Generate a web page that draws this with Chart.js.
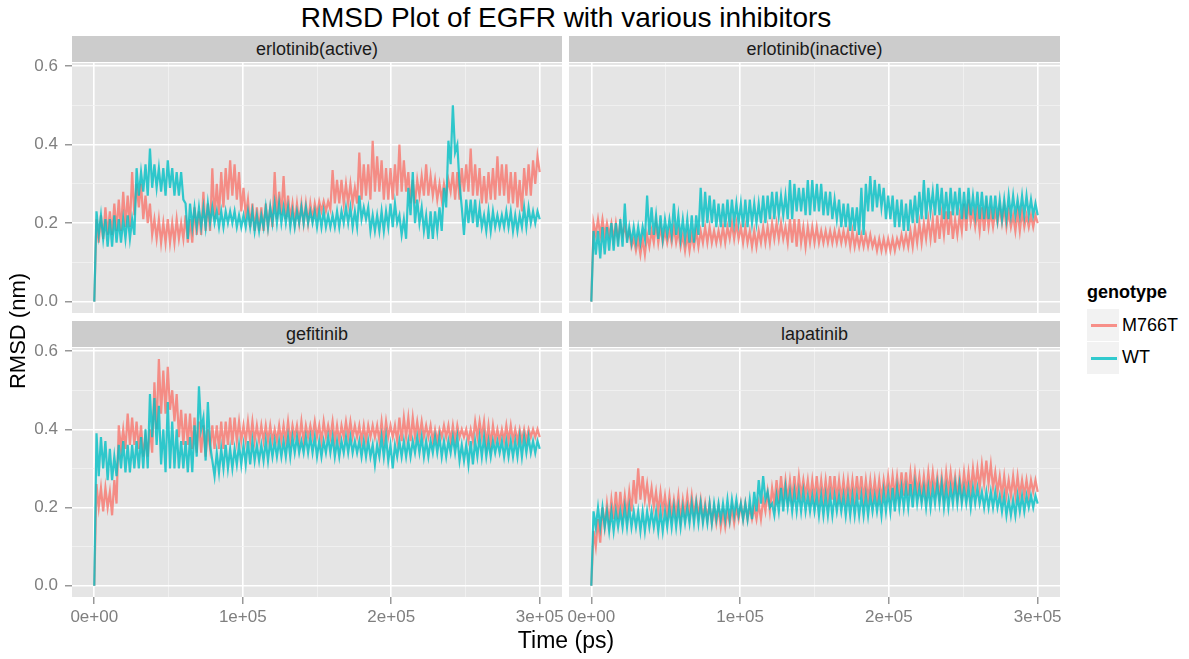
<!DOCTYPE html>
<html>
<head>
<meta charset="utf-8">
<title>RMSD Plot of EGFR with various inhibitors</title>
<script src="https://cdn.jsdelivr.net/npm/chart.js@4.4.1/dist/chart.umd.min.js"></script>
<style>
  body { margin: 0; background: #ffffff; font-family: "Liberation Sans", Arial, sans-serif; }
  #page { position: relative; width: 1189px; height: 659px; overflow: hidden; }
  canvas { position: absolute; }
  .strip { position: absolute; height: 26px; line-height: 26px; background: #CCCCCC; color: #1A1A1A; font-size: 18px; text-align: center; }
  .txt { position: absolute; color: #000000; white-space: nowrap; }
  .key { position: absolute; left: 1087px; width: 32px; height: 32px; background: #F2F2F2; }
  .key span { position: absolute; left: 4px; top: 15px; width: 26px; height: 3px; }
</style>
</head>
<body>
<div id="page">
  <div class="txt" style="left:0; width:1132px; top:2px; text-align:center; font-size:28px;">RMSD Plot of EGFR with various inhibitors</div>

  <div class="strip" style="left:72px; top:36px; width:490px;">erlotinib(active)</div>
  <div class="strip" style="left:569px; top:36px; width:491px;">erlotinib(inactive)</div>
  <div class="strip" style="left:72px; top:321px; width:490px;">gefitinib</div>
  <div class="strip" style="left:569px; top:321px; width:491px;">lapatinib</div>

  <canvas id="c-ea" width="600" height="270" style="left:0; top:43px;"></canvas>
  <canvas id="c-ei" width="510" height="270" style="left:560px; top:43px;"></canvas>
  <canvas id="c-gf" width="600" height="331" style="left:0; top:328px;"></canvas>
  <canvas id="c-lp" width="510" height="331" style="left:560px; top:328px;"></canvas>

  <div class="txt" style="left:466px; width:200px; top:627px; text-align:center; font-size:23px;">Time (ps)</div>
  <div class="txt" style="left:-82px; width:200px; top:318px; text-align:center; font-size:22px; transform:rotate(-90deg);">RMSD (nm)</div>

  <div class="txt" style="left:1087px; top:282px; font-size:18px; font-weight:bold;">genotype</div>
  <div class="key" style="top:309px;"><span style="background:rgba(248,118,109,0.8);"></span></div>
  <div class="key" style="top:342px;"><span style="background:rgba(0,191,196,0.8);"></span></div>
  <div class="txt" style="left:1122px; top:315px; font-size:18px;">M766T</div>
  <div class="txt" style="left:1122px; top:347px; font-size:18px;">WT</div>
</div>

<script>
'use strict';

/* global Chart */

// sampling times (ps)
const times = [0,
    1500, 3000, 4500, 6000, 7500, 9000, 10500, 12000, 13500, 15000, 16500, 18000, 19500, 21000, 22500, 24000, 25500, 27000, 28500, 30000,
    31500, 33000, 34500, 36000, 37500, 39000, 40500, 42000, 43500, 45000, 46500, 48000, 49500, 51000, 52500, 54000, 55500, 57000, 58500, 60000,
    61500, 63000, 64500, 66000, 67500, 69000, 70500, 72000, 73500, 75000, 76500, 78000, 79500, 81000, 82500, 84000, 85500, 87000, 88500, 90000,
    91500, 93000, 94500, 96000, 97500, 99000, 100500, 102000, 103500, 105000, 106500, 108000, 109500, 111000, 112500, 114000, 115500, 117000, 118500, 120000,
    121500, 123000, 124500, 126000, 127500, 129000, 130500, 132000, 133500, 135000, 136500, 138000, 139500, 141000, 142500, 144000, 145500, 147000, 148500, 150000,
    151500, 153000, 154500, 156000, 157500, 159000, 160500, 162000, 163500, 165000, 166500, 168000, 169500, 171000, 172500, 174000, 175500, 177000, 178500, 180000,
    181500, 183000, 184500, 186000, 187500, 189000, 190500, 192000, 193500, 195000, 196500, 198000, 199500, 201000, 202500, 204000, 205500, 207000, 208500, 210000,
    211500, 213000, 214500, 216000, 217500, 219000, 220500, 222000, 223500, 225000, 226500, 228000, 229500, 231000, 232500, 234000, 235500, 237000, 238500, 240000,
    241500, 243000, 244500, 246000, 247500, 249000, 250500, 252000, 253500, 255000, 256500, 258000, 259500, 261000, 262500, 264000, 265500, 267000, 268500, 270000,
    271500, 273000, 274500, 276000, 277500, 279000, 280500, 282000, 283500, 285000, 286500, 288000, 289500, 291000, 292500, 294000, 295500, 297000, 298500, 300000];

// erlotinib(active)
const eaM766T = [0,
    0.21, 0.15, 0.22, 0.16, 0.24, 0.17, 0.23, 0.17, 0.25, 0.18, 0.26, 0.18, 0.28, 0.19, 0.27, 0.19, 0.33, 0.22, 0.30, 0.24,
    0.30, 0.21, 0.27, 0.20, 0.25, 0.17, 0.21, 0.16, 0.21, 0.15, 0.20, 0.15, 0.21, 0.15, 0.20, 0.15, 0.21, 0.16, 0.20, 0.16,
    0.22, 0.15, 0.21, 0.15, 0.24, 0.17, 0.23, 0.17, 0.28, 0.18, 0.25, 0.18, 0.34, 0.21, 0.30, 0.22, 0.33, 0.24, 0.34, 0.26,
    0.36, 0.27, 0.35, 0.26, 0.33, 0.23, 0.29, 0.22, 0.26, 0.19, 0.25, 0.18, 0.24, 0.18, 0.24, 0.18, 0.25, 0.19, 0.24, 0.19,
    0.33, 0.21, 0.28, 0.22, 0.32, 0.21, 0.27, 0.21, 0.25, 0.20, 0.25, 0.20, 0.25, 0.20, 0.25, 0.20, 0.25, 0.21, 0.25, 0.22,
    0.255, 0.23, 0.255, 0.23, 0.255, 0.235, 0.335, 0.25, 0.31, 0.25, 0.31, 0.25, 0.30, 0.25, 0.30, 0.25, 0.29, 0.25, 0.38, 0.26,
    0.35, 0.27, 0.35, 0.26, 0.41, 0.28, 0.37, 0.28, 0.36, 0.26, 0.34, 0.26, 0.34, 0.26, 0.35, 0.27, 0.40, 0.28, 0.36, 0.28,
    0.33, 0.25, 0.31, 0.25, 0.31, 0.27, 0.32, 0.27, 0.35, 0.27, 0.32, 0.27, 0.31, 0.26, 0.30, 0.26, 0.30, 0.27, 0.31, 0.28,
    0.33, 0.26, 0.33, 0.26, 0.34, 0.28, 0.35, 0.28, 0.39, 0.27, 0.35, 0.27, 0.34, 0.25, 0.32, 0.25, 0.33, 0.26, 0.34, 0.26,
    0.37, 0.27, 0.35, 0.27, 0.35, 0.25, 0.33, 0.25, 0.33, 0.24, 0.31, 0.23, 0.34, 0.27, 0.35, 0.27, 0.36, 0.30, 0.37, 0.33];
const eaWT = [0,
    0.23, 0.17, 0.22, 0.16, 0.21, 0.14, 0.21, 0.14, 0.22, 0.15, 0.21, 0.15, 0.21, 0.16, 0.22, 0.16, 0.21, 0.17, 0.34, 0.27,
    0.33, 0.28, 0.35, 0.27, 0.39, 0.29, 0.35, 0.29, 0.34, 0.28, 0.34, 0.27, 0.36, 0.29, 0.34, 0.27, 0.33, 0.27, 0.33, 0.26,
    0.25, 0.16, 0.25, 0.19, 0.24, 0.19, 0.24, 0.19, 0.24, 0.19, 0.25, 0.20, 0.24, 0.20, 0.23, 0.19, 0.23, 0.19, 0.23, 0.20,
    0.23, 0.20, 0.23, 0.19, 0.22, 0.19, 0.22, 0.19, 0.23, 0.19, 0.23, 0.18, 0.22, 0.18, 0.22, 0.19, 0.24, 0.19, 0.24, 0.20,
    0.25, 0.20, 0.25, 0.20, 0.24, 0.20, 0.24, 0.19, 0.23, 0.19, 0.23, 0.20, 0.24, 0.20, 0.24, 0.20, 0.23, 0.20, 0.23, 0.19,
    0.23, 0.19, 0.23, 0.19, 0.22, 0.19, 0.22, 0.19, 0.23, 0.19, 0.23, 0.20, 0.24, 0.20, 0.24, 0.19, 0.23, 0.19, 0.27, 0.21,
    0.24, 0.21, 0.24, 0.18, 0.22, 0.18, 0.22, 0.18, 0.23, 0.18, 0.23, 0.19, 0.25, 0.19, 0.25, 0.20, 0.22, 0.17, 0.21, 0.16,
    0.29, 0.22, 0.33, 0.20, 0.26, 0.20, 0.24, 0.18, 0.22, 0.16, 0.23, 0.16, 0.23, 0.18, 0.24, 0.18, 0.29, 0.24, 0.41, 0.35,
    0.50, 0.38, 0.40, 0.30, 0.24, 0.17, 0.26, 0.20, 0.26, 0.20, 0.26, 0.19, 0.24, 0.19, 0.22, 0.18, 0.23, 0.18, 0.23, 0.19,
    0.22, 0.19, 0.22, 0.19, 0.23, 0.19, 0.23, 0.18, 0.22, 0.18, 0.22, 0.19, 0.24, 0.19, 0.24, 0.20, 0.23, 0.20, 0.23, 0.21];

// erlotinib(inactive)
const eiM766T = [0,
    0.20, 0.17, 0.21, 0.17, 0.21, 0.17, 0.20, 0.17, 0.20, 0.16, 0.20, 0.16, 0.20, 0.17, 0.19, 0.16, 0.18, 0.14, 0.16, 0.13,
    0.16, 0.12, 0.16, 0.12, 0.17, 0.14, 0.18, 0.15, 0.20, 0.15, 0.19, 0.15, 0.18, 0.15, 0.18, 0.15, 0.19, 0.15, 0.18, 0.14,
    0.17, 0.13, 0.17, 0.13, 0.17, 0.14, 0.18, 0.14, 0.18, 0.15, 0.19, 0.15, 0.19, 0.15, 0.18, 0.15, 0.18, 0.15, 0.19, 0.15,
    0.19, 0.16, 0.20, 0.16, 0.20, 0.16, 0.19, 0.15, 0.19, 0.15, 0.18, 0.14, 0.18, 0.14, 0.18, 0.15, 0.19, 0.15, 0.19, 0.15,
    0.20, 0.16, 0.20, 0.16, 0.20, 0.16, 0.19, 0.15, 0.21, 0.15, 0.21, 0.14, 0.21, 0.15, 0.19, 0.14, 0.19, 0.15, 0.19, 0.15,
    0.19, 0.15, 0.18, 0.15, 0.18, 0.15, 0.18, 0.15, 0.18, 0.15, 0.18, 0.15, 0.18, 0.15, 0.18, 0.14, 0.18, 0.14, 0.17, 0.14,
    0.17, 0.14, 0.17, 0.14, 0.17, 0.14, 0.16, 0.13, 0.16, 0.13, 0.16, 0.13, 0.16, 0.13, 0.16, 0.13, 0.16, 0.14, 0.17, 0.14,
    0.17, 0.14, 0.18, 0.14, 0.19, 0.15, 0.20, 0.15, 0.20, 0.16, 0.21, 0.16, 0.21, 0.15, 0.22, 0.16, 0.22, 0.17, 0.23, 0.17,
    0.23, 0.16, 0.21, 0.17, 0.22, 0.18, 0.25, 0.18, 0.26, 0.20, 0.23, 0.19, 0.23, 0.18, 0.24, 0.18, 0.24, 0.19, 0.23, 0.19,
    0.23, 0.20, 0.24, 0.20, 0.24, 0.19, 0.23, 0.19, 0.22, 0.18, 0.23, 0.18, 0.23, 0.19, 0.22, 0.19, 0.22, 0.19, 0.22, 0.20];
const eiWT = [0,
    0.18, 0.12, 0.18, 0.11, 0.19, 0.12, 0.19, 0.13, 0.20, 0.13, 0.20, 0.14, 0.21, 0.14, 0.25, 0.15, 0.19, 0.15, 0.19, 0.15,
    0.19, 0.15, 0.19, 0.16, 0.27, 0.17, 0.24, 0.17, 0.22, 0.16, 0.22, 0.16, 0.21, 0.17, 0.21, 0.17, 0.25, 0.17, 0.22, 0.16,
    0.21, 0.16, 0.21, 0.15, 0.22, 0.15, 0.22, 0.17, 0.29, 0.19, 0.28, 0.20, 0.27, 0.20, 0.26, 0.19, 0.25, 0.19, 0.25, 0.19,
    0.26, 0.19, 0.26, 0.20, 0.25, 0.20, 0.25, 0.19, 0.26, 0.19, 0.26, 0.20, 0.25, 0.20, 0.25, 0.20, 0.27, 0.20, 0.27, 0.21,
    0.28, 0.21, 0.28, 0.22, 0.27, 0.22, 0.27, 0.21, 0.31, 0.21, 0.30, 0.23, 0.29, 0.23, 0.29, 0.22, 0.31, 0.22, 0.31, 0.23,
    0.30, 0.23, 0.30, 0.22, 0.28, 0.22, 0.28, 0.21, 0.26, 0.21, 0.26, 0.19, 0.25, 0.19, 0.25, 0.18, 0.24, 0.18, 0.24, 0.17,
    0.29, 0.17, 0.30, 0.23, 0.32, 0.23, 0.31, 0.24, 0.30, 0.24, 0.29, 0.21, 0.27, 0.21, 0.27, 0.19, 0.26, 0.19, 0.26, 0.18,
    0.25, 0.18, 0.26, 0.20, 0.27, 0.20, 0.28, 0.21, 0.31, 0.21, 0.29, 0.23, 0.28, 0.22, 0.30, 0.22, 0.29, 0.21, 0.28, 0.21,
    0.29, 0.22, 0.28, 0.22, 0.29, 0.21, 0.28, 0.21, 0.29, 0.22, 0.27, 0.22, 0.28, 0.21, 0.28, 0.21, 0.27, 0.21, 0.27, 0.21,
    0.27, 0.21, 0.26, 0.21, 0.26, 0.21, 0.27, 0.22, 0.27, 0.22, 0.26, 0.22, 0.27, 0.22, 0.27, 0.22, 0.26, 0.22, 0.25, 0.22];

// gefitinib
const gfM766T = [0,
    0.26, 0.20, 0.25, 0.19, 0.25, 0.20, 0.24, 0.18, 0.27, 0.21, 0.41, 0.35, 0.40, 0.35, 0.44, 0.36, 0.43, 0.36, 0.42, 0.35,
    0.41, 0.33, 0.38, 0.33, 0.40, 0.34, 0.52, 0.40, 0.58, 0.44, 0.55, 0.44, 0.56, 0.45, 0.50, 0.42, 0.49, 0.38, 0.45, 0.36,
    0.44, 0.36, 0.44, 0.35, 0.43, 0.34, 0.42, 0.34, 0.41, 0.33, 0.40, 0.35, 0.41, 0.35, 0.41, 0.35, 0.42, 0.35, 0.42, 0.36,
    0.43, 0.36, 0.43, 0.37, 0.42, 0.37, 0.41, 0.37, 0.42, 0.37, 0.42, 0.37, 0.41, 0.37, 0.41, 0.37, 0.41, 0.37, 0.41, 0.37,
    0.40, 0.37, 0.41, 0.37, 0.41, 0.37, 0.42, 0.37, 0.41, 0.38, 0.41, 0.37, 0.42, 0.37, 0.41, 0.38, 0.41, 0.38, 0.42, 0.38,
    0.41, 0.37, 0.42, 0.38, 0.41, 0.38, 0.42, 0.37, 0.41, 0.37, 0.41, 0.38, 0.42, 0.38, 0.42, 0.38, 0.41, 0.38, 0.41, 0.37,
    0.41, 0.37, 0.41, 0.38, 0.41, 0.38, 0.41, 0.37, 0.42, 0.37, 0.42, 0.38, 0.41, 0.38, 0.41, 0.37, 0.43, 0.37, 0.43, 0.38,
    0.43, 0.37, 0.43, 0.38, 0.42, 0.38, 0.42, 0.38, 0.41, 0.38, 0.41, 0.37, 0.40, 0.37, 0.40, 0.38, 0.41, 0.38, 0.41, 0.37,
    0.41, 0.37, 0.41, 0.38, 0.40, 0.38, 0.40, 0.37, 0.40, 0.37, 0.42, 0.38, 0.42, 0.38, 0.42, 0.36, 0.41, 0.36, 0.41, 0.37,
    0.40, 0.37, 0.40, 0.37, 0.41, 0.37, 0.41, 0.37, 0.40, 0.37, 0.40, 0.37, 0.40, 0.37, 0.40, 0.38, 0.40, 0.38, 0.40, 0.38];
const gfWT = [0,
    0.39, 0.28, 0.38, 0.30, 0.37, 0.27, 0.35, 0.27, 0.33, 0.28, 0.36, 0.30, 0.37, 0.29, 0.36, 0.29, 0.36, 0.30, 0.37, 0.30,
    0.38, 0.30, 0.40, 0.30, 0.49, 0.38, 0.48, 0.36, 0.46, 0.31, 0.40, 0.29, 0.47, 0.30, 0.42, 0.30, 0.40, 0.30, 0.37, 0.30,
    0.37, 0.29, 0.38, 0.29, 0.41, 0.33, 0.51, 0.40, 0.43, 0.32, 0.47, 0.36, 0.32, 0.28, 0.34, 0.29, 0.35, 0.30, 0.36, 0.30,
    0.35, 0.30, 0.35, 0.31, 0.36, 0.31, 0.36, 0.31, 0.37, 0.31, 0.37, 0.32, 0.36, 0.32, 0.36, 0.32, 0.37, 0.32, 0.37, 0.33,
    0.37, 0.33, 0.37, 0.33, 0.37, 0.33, 0.38, 0.33, 0.38, 0.34, 0.38, 0.34, 0.37, 0.34, 0.38, 0.34, 0.38, 0.34, 0.38, 0.33,
    0.37, 0.33, 0.37, 0.34, 0.38, 0.34, 0.38, 0.33, 0.37, 0.33, 0.37, 0.34, 0.38, 0.34, 0.38, 0.34, 0.37, 0.34, 0.37, 0.33,
    0.37, 0.33, 0.37, 0.33, 0.36, 0.31, 0.36, 0.33, 0.38, 0.33, 0.38, 0.32, 0.36, 0.30, 0.36, 0.33, 0.37, 0.33, 0.37, 0.33,
    0.37, 0.33, 0.37, 0.34, 0.38, 0.34, 0.38, 0.33, 0.37, 0.33, 0.37, 0.34, 0.38, 0.34, 0.38, 0.33, 0.37, 0.33, 0.37, 0.34,
    0.38, 0.34, 0.38, 0.32, 0.36, 0.32, 0.36, 0.31, 0.37, 0.31, 0.37, 0.33, 0.38, 0.33, 0.38, 0.33, 0.37, 0.33, 0.37, 0.34,
    0.37, 0.34, 0.37, 0.33, 0.37, 0.33, 0.37, 0.33, 0.37, 0.33, 0.38, 0.33, 0.38, 0.34, 0.38, 0.34, 0.37, 0.34, 0.37, 0.35];

// lapatinib
const lpM766T = [0,
    0.14, 0.10, 0.17, 0.11, 0.20, 0.15, 0.21, 0.16, 0.22, 0.17, 0.24, 0.17, 0.24, 0.18, 0.23, 0.18, 0.24, 0.19, 0.27, 0.21,
    0.30, 0.22, 0.28, 0.22, 0.26, 0.21, 0.25, 0.20, 0.24, 0.19, 0.24, 0.19, 0.23, 0.18, 0.23, 0.18, 0.22, 0.18, 0.23, 0.17,
    0.22, 0.18, 0.23, 0.18, 0.23, 0.18, 0.22, 0.18, 0.22, 0.17, 0.21, 0.17, 0.21, 0.16, 0.20, 0.16, 0.20, 0.15, 0.19, 0.15,
    0.19, 0.16, 0.20, 0.16, 0.20, 0.17, 0.21, 0.17, 0.21, 0.17, 0.20, 0.17, 0.20, 0.17, 0.21, 0.17, 0.22, 0.19, 0.24, 0.19,
    0.25, 0.21, 0.27, 0.21, 0.28, 0.22, 0.27, 0.22, 0.27, 0.22, 0.28, 0.22, 0.28, 0.23, 0.27, 0.23, 0.27, 0.22, 0.27, 0.22,
    0.28, 0.22, 0.27, 0.22, 0.27, 0.22, 0.28, 0.22, 0.28, 0.22, 0.27, 0.22, 0.27, 0.22, 0.27, 0.22, 0.27, 0.22, 0.28, 0.22,
    0.28, 0.22, 0.27, 0.22, 0.27, 0.22, 0.27, 0.22, 0.27, 0.22, 0.27, 0.23, 0.28, 0.23, 0.28, 0.23, 0.28, 0.23, 0.29, 0.23,
    0.29, 0.23, 0.29, 0.24, 0.29, 0.24, 0.28, 0.23, 0.28, 0.23, 0.29, 0.24, 0.29, 0.24, 0.28, 0.23, 0.28, 0.23, 0.29, 0.24,
    0.29, 0.24, 0.28, 0.23, 0.28, 0.23, 0.29, 0.24, 0.29, 0.24, 0.30, 0.25, 0.30, 0.25, 0.31, 0.26, 0.32, 0.26, 0.31, 0.25,
    0.29, 0.24, 0.28, 0.23, 0.28, 0.23, 0.27, 0.23, 0.28, 0.23, 0.28, 0.23, 0.27, 0.23, 0.27, 0.23, 0.27, 0.24, 0.27, 0.24];
const lpWT = [0,
    0.19, 0.15, 0.20, 0.15, 0.20, 0.15, 0.19, 0.14, 0.19, 0.14, 0.19, 0.15, 0.19, 0.15, 0.20, 0.15, 0.20, 0.15, 0.19, 0.15,
    0.19, 0.14, 0.19, 0.14, 0.19, 0.15, 0.19, 0.15, 0.19, 0.14, 0.19, 0.14, 0.19, 0.15, 0.20, 0.15, 0.20, 0.15, 0.20, 0.15,
    0.20, 0.16, 0.20, 0.16, 0.21, 0.16, 0.21, 0.16, 0.21, 0.16, 0.20, 0.16, 0.21, 0.16, 0.21, 0.17, 0.21, 0.17, 0.21, 0.17,
    0.22, 0.17, 0.22, 0.18, 0.22, 0.18, 0.21, 0.17, 0.21, 0.17, 0.22, 0.17, 0.24, 0.19, 0.27, 0.21, 0.28, 0.22, 0.24, 0.20,
    0.21, 0.18, 0.23, 0.19, 0.25, 0.19, 0.25, 0.20, 0.24, 0.19, 0.24, 0.19, 0.24, 0.19, 0.24, 0.19, 0.23, 0.19, 0.23, 0.19,
    0.23, 0.18, 0.23, 0.18, 0.23, 0.18, 0.23, 0.18, 0.23, 0.19, 0.23, 0.19, 0.23, 0.18, 0.23, 0.18, 0.23, 0.18, 0.23, 0.18,
    0.23, 0.18, 0.23, 0.18, 0.23, 0.19, 0.23, 0.19, 0.23, 0.18, 0.24, 0.19, 0.24, 0.19, 0.25, 0.19, 0.25, 0.20, 0.25, 0.20,
    0.25, 0.20, 0.26, 0.20, 0.26, 0.21, 0.25, 0.21, 0.25, 0.20, 0.25, 0.20, 0.25, 0.21, 0.26, 0.21, 0.26, 0.20, 0.25, 0.20,
    0.25, 0.21, 0.26, 0.21, 0.26, 0.21, 0.25, 0.21, 0.25, 0.20, 0.25, 0.21, 0.25, 0.21, 0.24, 0.20, 0.24, 0.20, 0.24, 0.20,
    0.24, 0.20, 0.23, 0.19, 0.23, 0.18, 0.22, 0.18, 0.22, 0.18, 0.23, 0.19, 0.23, 0.19, 0.23, 0.20, 0.23, 0.20, 0.23, 0.21];

// axis breaks (major + minor grid lines)
const xBreaks = [0, 50000, 100000, 150000, 200000, 250000, 300000];
const yBreaks = [0, 0.1, 0.2, 0.3, 0.4, 0.5, 0.6];

const X_MIN = -15000, X_MAX = 315000;
const Y_MIN = -0.029, Y_MAX = 0.608;

const COL_M766T = 'rgba(248, 118, 109, 0.8)';
const COL_WT = 'rgba(0, 191, 196, 0.8)';

Chart.defaults.font.family = '"Liberation Sans", Arial, sans-serif';

const isMajorX = v => v % 100000 === 0;
const isMajorY = v => Math.abs(v * 5 - Math.round(v * 5)) < 1e-9;
const sciLabel = v => v === 0 ? '0e+00' : (v / 100000) + 'e+05';

// fond gris du panneau
const panelBg = {
    id: 'panelBg',
    beforeDraw(chart) {
        const a = chart.chartArea;
        const ctx = chart.ctx;
        ctx.save();
        ctx.fillStyle = '#E5E5E5';
        ctx.fillRect(a.left, a.top, a.right - a.left, a.bottom - a.top);
        ctx.restore();
    }
};

function gridStyle(isMajor, withTicks) {
    return {
        color: c => isMajor(c.tick.value) ? '#FFFFFF' : '#F2F2F2',
        lineWidth: c => isMajor(c.tick.value) ? 1.6 : 0.8,
        drawTicks: withTicks,
        tickLength: 7,
        tickWidth: 1.2,
        tickColor: c => isMajor(c.tick.value) ? '#7F7F7F' : 'rgba(0,0,0,0)'
    };
}

// no extra padding from the tick labels, the panels must line up
function noPadding(s) {
    s.paddingTop = 0;
    s.paddingBottom = 0;
    s.paddingLeft = 0;
    s.paddingRight = 0;
}

function makePanel(id, m766t, wt, showX, showY, padding) {
    const toPoints = vals => times.map((t, i) => ({ x: t, y: vals[i] }));
    // eslint-disable-next-line no-unused-vars
    let chart = new Chart(document.getElementById(id).getContext('2d'), {
        type: 'line',
        data: {
            datasets: [
                { label: 'WT', data: toPoints(wt), borderColor: COL_WT, borderWidth: 2.2, pointRadius: 0, tension: 0 },
                { label: 'M766T', data: toPoints(m766t), borderColor: COL_M766T, borderWidth: 2.2, pointRadius: 0, tension: 0 }
            ]
        },
        options: {
            responsive: false,
            animation: false,
            devicePixelRatio: 1,
            events: [],
            layout: { padding: padding, autoPadding: false },
            plugins: { legend: { display: false }, tooltip: { enabled: false } },
            scales: {
                x: {
                    type: 'linear', min: X_MIN, max: X_MAX,
                    afterBuildTicks: s => { s.ticks = xBreaks.map(v => ({ value: v })); },
                    afterFit: s => { s.height = showX ? 62 : 0; noPadding(s); },
                    border: { display: false },
                    grid: gridStyle(isMajorX, showX),
                    ticks: {
                        display: showX, autoSkip: false, maxRotation: 0, padding: 3,
                        color: '#7F7F7F', font: { size: 17 },
                        callback: v => isMajorX(v) ? sciLabel(v) : ''
                    }
                },
                y: {
                    type: 'linear', min: Y_MIN, max: Y_MAX,
                    afterBuildTicks: s => { s.ticks = yBreaks.map(v => ({ value: v })); },
                    afterFit: s => { s.width = showY ? 72 : 0; noPadding(s); },
                    border: { display: false },
                    grid: gridStyle(isMajorY, showY),
                    ticks: {
                        display: showY, autoSkip: false, padding: 7,
                        color: '#7F7F7F', font: { size: 17 },
                        callback: v => isMajorY(v) ? v.toFixed(1) : ''
                    }
                }
            }
        },
        plugins: [panelBg]
    });
}

makePanel('c-ea', eaM766T, eaWT, false, true, { top: 20, right: 38, bottom: 0, left: 0 });
makePanel('c-ei', eiM766T, eiWT, false, false, { top: 20, right: 10, bottom: 0, left: 9 });
makePanel('c-gf', gfM766T, gfWT, true, true, { top: 20, right: 38, bottom: 0, left: 0 });
makePanel('c-lp', lpM766T, lpWT, true, false, { top: 20, right: 10, bottom: 0, left: 9 });
</script>
</body>
</html>
